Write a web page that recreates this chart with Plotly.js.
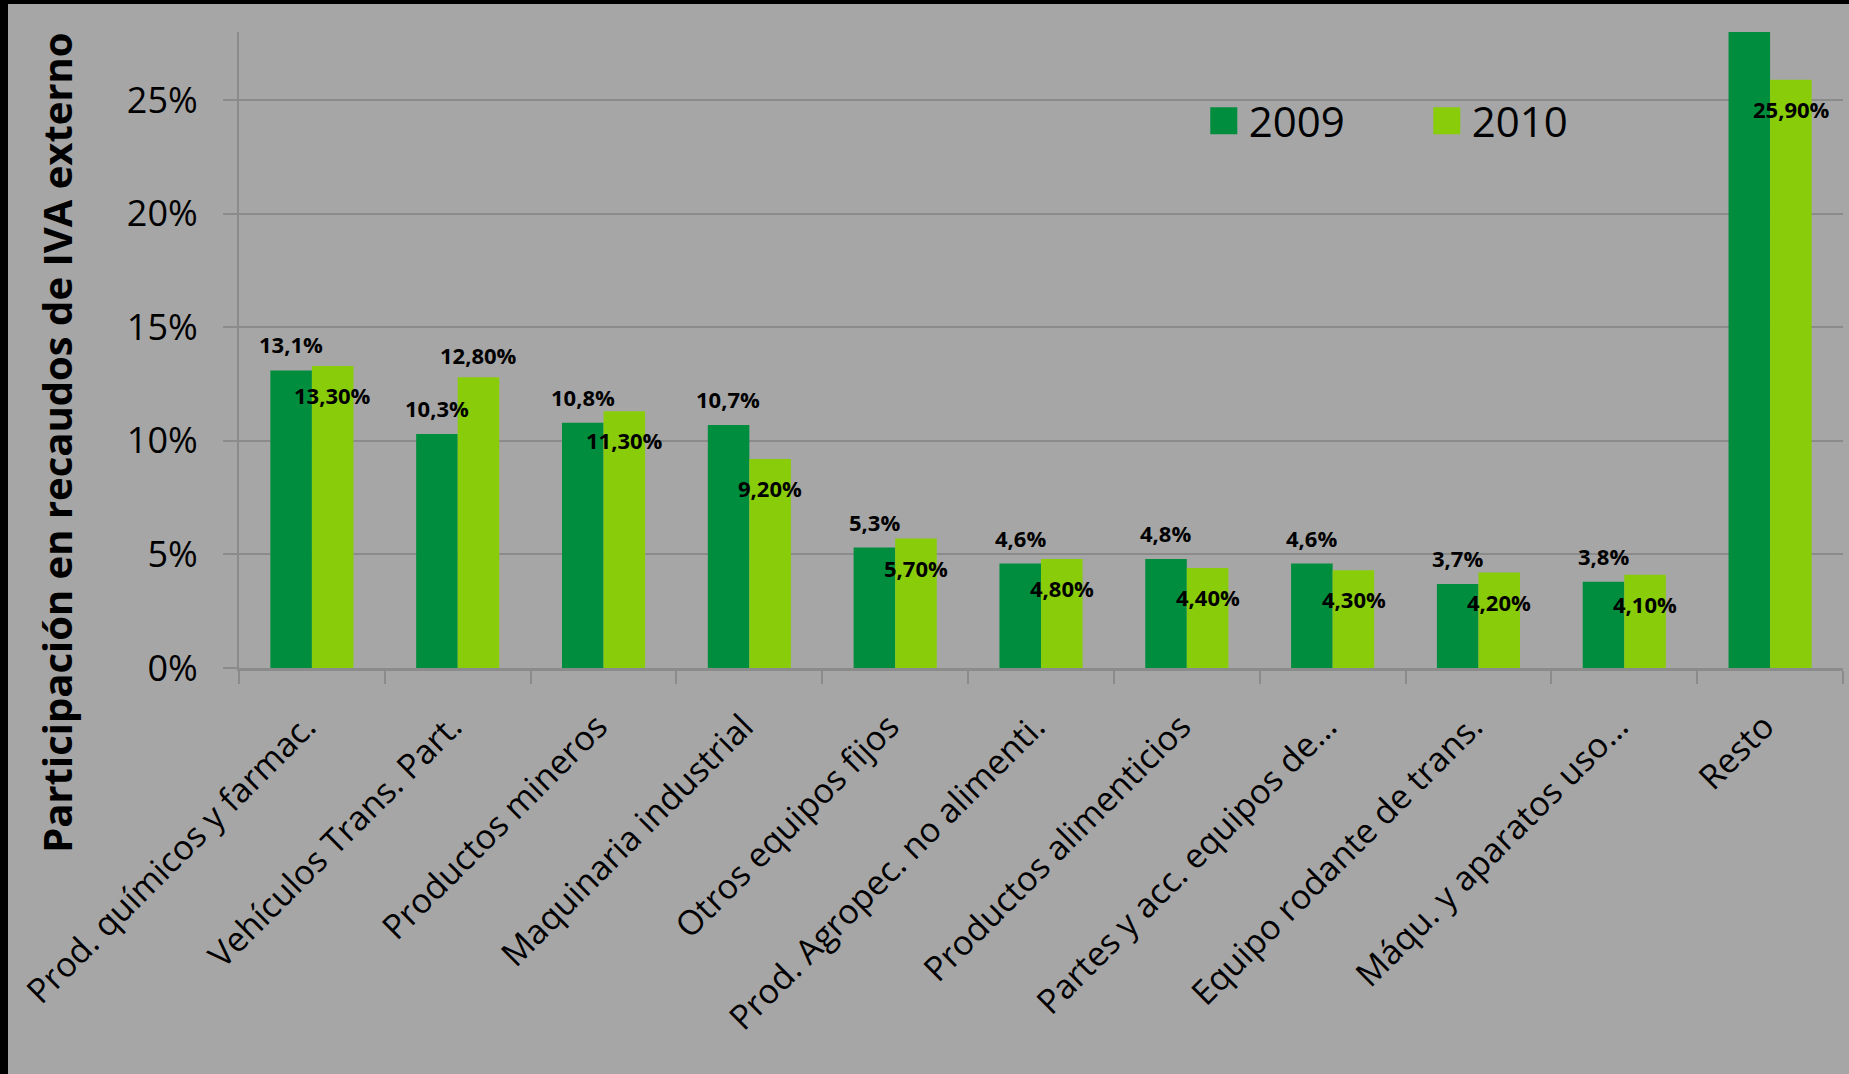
<!DOCTYPE html>
<html>
<head>
<meta charset="utf-8">
<script src="https://cdn.plot.ly/plotly-3.0.1.min.js"></script>
<style>
  html, body { margin: 0; padding: 0; background: #000; width: 1849px; height: 1074px; overflow: hidden; }
  #chart { position: absolute; left: 8px; top: 4px; width: 1841px; height: 1070px; }
</style>
</head>
<body>
<div id="chart"></div>
<script>
// ---- Data ----
const categories = [
  "Prod. químicos y farmac.",
  "Vehículos Trans. Part.",
  "Productos mineros",
  "Maquinaria industrial",
  "Otros equipos fijos",
  "Prod. Agropec. no alimenti.",
  "Productos alimenticios",
  "Partes y acc. equipos de…",
  "Equipo rodante de trans.",
  "Máqu. y aparatos uso…",
  "Resto"
];
const series2009 = [13.1, 10.3, 10.8, 10.7, 5.3, 4.6, 4.8, 4.6, 3.7, 3.8, 28.3];
const series2010 = [13.3, 12.8, 11.3, 9.2, 5.7, 4.8, 4.4, 4.3, 4.2, 4.1, 25.9];
const seriesNames = ["2009", "2010"];
const yTickVals = [0, 5, 10, 15, 20, 25];
const yTickText = ["0%", "5%", "10%", "15%", "20%", "25%"];
const yTitle = "Participación en recaudos de IVA externo";

// ---- Style ----
const FONT = "Open Sans, Lato, sans-serif";
const BG = "#a6a6a6";
const GRID = "#8b8b8b";
const C2009 = "#008e3e";
const C2010 = "#88cc0a";
const Y_MAX = 28;

const fmt = (v, d) => v.toFixed(d).replace(".", ",") + "%";

const traces = [
  { type: "bar", name: seriesNames[0], x: categories, y: series2009,
    marker: { color: C2009 }, hoverinfo: "x+y" },
  { type: "bar", name: seriesNames[1], x: categories, y: series2010,
    marker: { color: C2010 }, hoverinfo: "x+y" }
];

const annotations = [];
const labFont = { family: FONT, size: 22, color: "#000" };
categories.forEach((c, i) => {
  if (series2009[i] <= Y_MAX) {
    annotations.push({ x: c, y: series2009[i], xref: "x", yref: "y",
      text: "<b>" + fmt(series2009[i], 1) + "</b>", showarrow: false,
      xshift: -21, yshift: 26, font: labFont });
  }
  const above = series2010[i] - series2009[i] > 1;
  annotations.push({ x: c, y: series2010[i], xref: "x", yref: "y",
    text: "<b>" + fmt(series2010[i], 2) + "</b>", showarrow: false,
    xshift: 21, yshift: above ? 22 : -29, font: labFont });
});

annotations.push({
  xref: "paper", yref: "paper", x: 0, y: 0.354, xshift: -182,
  text: "<b>" + yTitle + "</b>", textangle: -90, showarrow: false,
  xanchor: "center", yanchor: "middle",
  font: { family: FONT, size: 40, color: "#000" }
});

const layout = {
  width: 1841, height: 1070,
  paper_bgcolor: BG, plot_bgcolor: BG,
  margin: { l: 231, r: 6, t: 28, b: 406 },
  barmode: "group", bargap: 0.43, bargroupgap: 0,
  font: { family: FONT, color: "#000" },
  showlegend: true,
  legend: {
    orientation: "h", x: 0.6046, y: 0.86, xanchor: "left", yanchor: "middle",
    font: { family: FONT, size: 42, color: "#000" },
    bgcolor: "rgba(0,0,0,0)", entrywidth: 178, entrywidthmode: "pixels"
  },
  xaxis: {
    type: "category",
    showline: true, linecolor: GRID, linewidth: 3,
    ticks: "outside", tickson: "boundaries", ticklen: 13, tickwidth: 2, tickcolor: GRID,
    tickangle: -45, tickfont: { family: FONT, size: 34, color: "#000" },
    ticklabelstandoff: 22, ticklabelshift: -6,
    showgrid: false, zeroline: false
  },
  yaxis: {
    range: [0, Y_MAX], tickmode: "array", tickvals: yTickVals, ticktext: yTickText,
    showline: true, linecolor: GRID, linewidth: 2,
    ticks: "outside", ticklen: 14, tickwidth: 2, tickcolor: GRID,
    ticklabelstandoff: 18,
    tickfont: { family: FONT, size: 36, color: "#000" },
    showgrid: true, gridcolor: GRID, gridwidth: 2, zeroline: false
  },
  annotations: annotations
};

Plotly.newPlot("chart", traces, layout, { displayModeBar: false, staticPlot: true }).then(gd => {
  gd.querySelectorAll(".legend .legendpoints path").forEach(p => {
    const t = p.getAttribute("transform") || "";
    p.setAttribute("transform", t + " translate(-5,0) scale(2.25)");
  });
});
</script>
</body>
</html>
